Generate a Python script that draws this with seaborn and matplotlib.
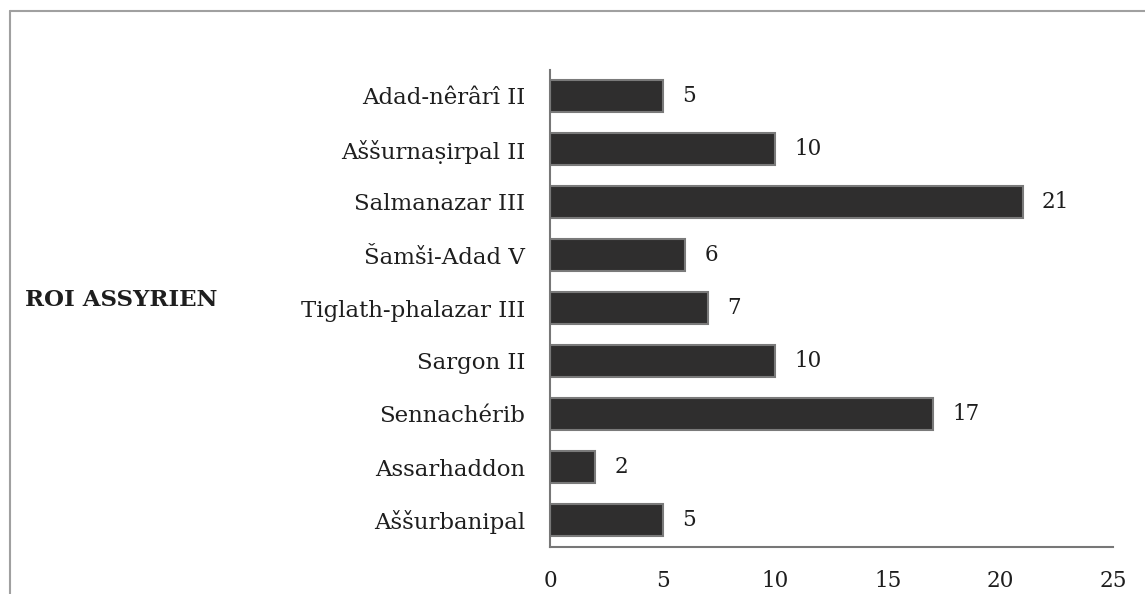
import matplotlib
matplotlib.use("Agg")
import matplotlib.pyplot as plt
from matplotlib.lines import Line2D
import seaborn as sns
import pandas as pd

# data
kings = ["Adad-nêrârî II", "Aššurnaṣirpal II", "Salmanazar III", "Šamši-Adad V",
         "Tiglath-phalazar III", "Sargon II", "Sennachérib", "Assarhaddon", "Aššurbanipal"]
counts = [5, 10, 21, 6, 7, 10, 17, 2, 5]
x_ticks = [0, 5, 10, 15, 20, 25]

df = pd.DataFrame({"roi": kings, "n": counts})

sns.set_theme(style="white")
plt.rcParams["font.family"] = ["DejaVu Serif", "DejaVu Sans"]

fig = plt.figure(figsize=(11.45, 5.94), dpi=100)
ax = fig.add_axes([550 / 1145, 1 - 546.5 / 594, 563 / 1145, 477 / 594])

sns.barplot(data=df, x="n", y="roi", orient="h", color="#2f2e2e",
            edgecolor="#7a7a7a", linewidth=1.5, width=0.6, ax=ax, saturation=1)

for i, v in enumerate(counts):
    ax.text(v + 0.85, i, str(v), va="center", ha="left", fontsize=15.5, color="#1e1e1e")

ax.set_xlim(0, 25)
ax.set_ylim(8.5, -0.5)
ax.set_xticks(x_ticks)
ax.tick_params(axis="x", length=0, pad=17, labelsize=15.5, labelcolor="#1e1e1e")
ax.tick_params(axis="y", length=0, pad=18, labelsize=16.5, labelcolor="#1e1e1e")
ax.set_xlabel("")
ax.set_ylabel("ROI ASSYRIEN", rotation=0, fontsize=16.5, fontweight="bold",
              ha="left", va="center", color="#1e1e1e")
ax.yaxis.set_label_coords((25 - 550) / 563, (546.5 - 300) / 477)

for s in ["top", "right"]:
    ax.spines[s].set_visible(False)
for s in ["left", "bottom"]:
    ax.spines[s].set_color("#777777")
    ax.spines[s].set_linewidth(1.5)

# light frame around the picture (top and left edges visible)
fig.add_artist(Line2D([10 / 1145, 1], [1 - 11 / 594, 1 - 11 / 594], color="#a0a0a0", lw=1.5))
fig.add_artist(Line2D([10 / 1145, 10 / 1145], [0, 1 - 11 / 594], color="#a0a0a0", lw=1.5))

fig.savefig("out.png", dpi=100, facecolor="white")
